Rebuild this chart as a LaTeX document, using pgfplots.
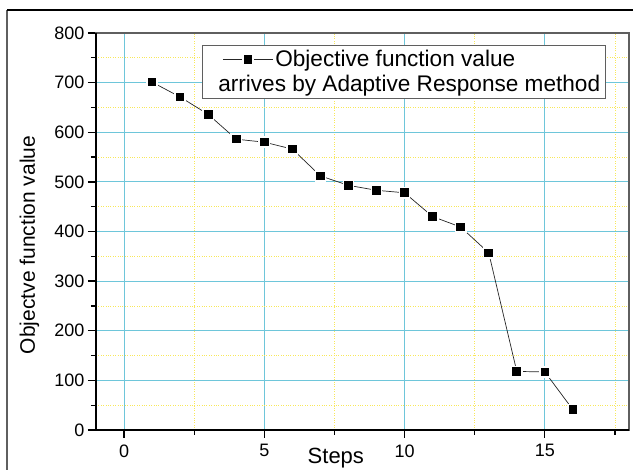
\documentclass[border=0pt]{standalone}
\usepackage{pgfplots}
\pgfplotsset{compat=1.18}
\usepackage{fontspec}
\setmainfont{Liberation Sans}
\definecolor{gridcyan}{RGB}{110,198,218}
\definecolor{gridyellow}{RGB}{248,232,90}
\definecolor{framegray}{RGB}{95,95,95}
\begin{document}
\begin{tikzpicture}
\path[use as bounding box] (0pt,0pt) rectangle (633pt,470pt);
\draw[framegray, line width=1.6pt] (7pt,-5pt) -- (7pt,460pt);
\draw[black, line width=1.3pt] (7pt,460pt) -- (640pt,460pt);
\begin{axis}[
  name=ax,
  at={(96pt,40pt)}, anchor=south west,
  scale only axis, width=533pt, height=397pt,
  xmin=-1, xmax=18, ymin=0, ymax=800,
  xtick={0,5,10,15}, ytick={0,100,...,800},
  minor xtick={2.5,7.5,12.5,17.5}, minor ytick={50,150,...,750},
  grid=both,
  major grid style={gridcyan, line width=0.9pt},
  minor grid style={gridyellow, dotted, line width=0.8pt},
  axis line style={framegray, line width=1.3pt},
  tick align=outside, tick pos=left,
  major tick length=8pt, minor tick length=5pt,
  tick style={black, line width=1.3pt},
  ticklabel style={font=\fontsize{18}{21}\selectfont},
  xticklabel style={yshift=-3pt},
  /pgf/number format/assume math mode=true,
  xlabel={Steps}, ylabel={Objectve function value},
  xlabel style={font=\fontsize{22}{26}\selectfont, at={(axis description cs:0.45,0)}, anchor=north, yshift=-15pt},
  ylabel style={font=\fontsize{21}{25}\selectfont, at={(axis description cs:-0.1,0.466)}, anchor=south},
  legend style={at={(axis description cs:0.199,0.970)}, anchor=north west,
    draw=framegray, line width=1pt, fill=white,
    font=\fontsize{22.6}{26}\selectfont, cells={anchor=west},
    inner xsep=3pt, inner ysep=3pt, row sep=3pt},
  legend image code/.code={\path (0pt,0pt); \draw[mark repeat=2,mark phase=2,#1] plot coordinates {(17pt,0pt) (42pt,0pt) (67pt,0pt)};},
]
\addplot[color=black!85, line width=0.7pt, mark=square*, mark size=5.1pt,
  mark options={fill=black, draw=white, line width=1.6pt, solid}] coordinates {
  (1,701) (2,671) (3,636) (4,586) (5,580) (6,566) (7,512) (8,493)
  (9,483) (10,478) (11,430) (12,409) (13,357) (14,118) (15,117) (16,41)
};
\addlegendentry{Objective function value}
\addlegendimage{empty legend}
\addlegendentry{\hspace*{-57pt}arrives by Adaptive Response method}
\end{axis}
\draw[black, line width=1.6pt] (ax.north west) -- (ax.south west) -- (ax.south east);
\end{tikzpicture}
\end{document}
